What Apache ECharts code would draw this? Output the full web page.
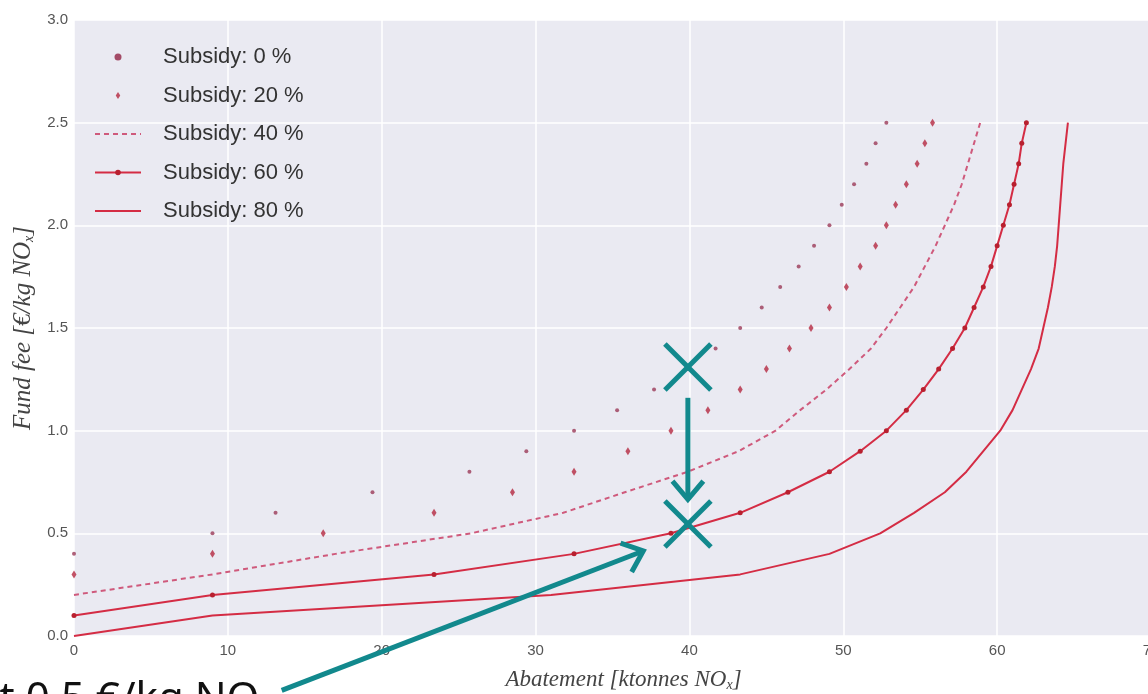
<!DOCTYPE html>
<html>
<head>
<meta charset="utf-8">
<script src="https://cdn.jsdelivr.net/npm/echarts@6/dist/echarts.min.js"></script>
<style>
  html, body { margin: 0; padding: 0; background: #fff; }
  #chart { width: 1148px; height: 694px; }
</style>
</head>
<body>
<div id="chart"></div>
<script>
// fee levels [€/kg NOx], each series ends at 2.5 and starts later for low subsidies
const feeLevels = [0.0, 0.1, 0.2, 0.3, 0.4, 0.5, 0.6, 0.7, 0.8, 0.9, 1.0, 1.1, 1.2,
  1.3, 1.4, 1.5, 1.6, 1.7, 1.8, 1.9, 2.0, 2.1, 2.2, 2.3, 2.4, 2.5];

// abatement [ktonnes NOx]
const abate0 = [0, 9, 13.1, 19.4, 25.7, 29.4, 32.5, 35.3, 37.7, 39.9, 41.7, 43.3, 44.7,
  45.9, 47.1, 48.1, 49.1, 49.9, 50.7, 51.5, 52.1, 52.8];
const abate20 = [0, 9, 16.2, 23.4, 28.5, 32.5, 36.0, 38.8, 41.2, 43.3, 45.0, 46.5, 47.9,
  49.1, 50.2, 51.1, 52.1, 52.8, 53.4, 54.1, 54.8, 55.3, 55.8];
const abate40 = [0, 9, 17, 25.8, 31.8, 35.8, 39.9, 43.2, 45.6, 47.2, 48.9, 50.4, 51.8,
  52.8, 53.7, 54.6, 55.3, 56.0, 56.6, 57.2, 57.7, 58.1, 58.5, 58.9];
const abate60 = [0, 9, 23.4, 32.5, 38.8, 43.3, 46.4, 49.1, 51.1, 52.8, 54.1, 55.2, 56.2,
  57.1, 57.9, 58.5, 59.1, 59.6, 60.0, 60.4, 60.8, 61.1, 61.4, 61.6, 61.9];
const abate80 = [0, 9, 31, 43.3, 49.1, 52.4, 54.6, 56.6, 58.0, 59.1, 60.2, 61.0, 61.6,
  62.2, 62.7, 63.0, 63.3, 63.55, 63.75, 63.9, 64.0, 64.1, 64.2, 64.3, 64.45, 64.6];

const seriesNames = ['Subsidy: 0 %', 'Subsidy: 20 %', 'Subsidy: 40 %', 'Subsidy: 60 %', 'Subsidy: 80 %'];

// slide annotations (data coords)
const crossMarks = [[39.9, 1.31], [39.9, 0.545]];
const downArrow = [[39.9, 1.16], [39.9, 0.665]];
const noteArrow = [[13.5, -0.265], [37.0, 0.414]];
const noteText = 'at 0.5 €/kg NOₓ';

function pairs(abate) {
  const off = feeLevels.length - abate.length;
  return abate.map((a, i) => [a, feeLevels[off + i]]);
}

const red = '#d42c44';
const teal = '#12898d';
const diamond = 'path://M0,-4 L2.6,0 L0,4 L-2.6,0 Z';

var chart = echarts.init(document.getElementById('chart'), null, { renderer: 'canvas' });

const nameRich = size => ({
  i: { fontFamily: 'Liberation Serif', fontStyle: 'italic', fontSize: size, color: '#444' },
  s: { fontFamily: 'Liberation Serif', fontStyle: 'italic', fontSize: 14, color: '#444', verticalAlign: 'bottom', padding: [10, 0, 0, 0] }
});

const option = {
  animation: false,
  backgroundColor: '#fff',
  grid: {
    left: 74, right: -3, top: 20, bottom: 58,
    outerBoundsMode: 'none', containLabel: false,
    show: true, backgroundColor: '#eaeaf2', borderWidth: 0
  },
  legend: {
    orient: 'vertical',
    left: 89,
    top: 41,
    itemWidth: 46,
    itemHeight: 7,
    itemGap: 16.5,
    textStyle: { fontSize: 22, color: '#333', fontFamily: 'Liberation Sans', padding: [0, 0, 0, 17] },
    data: [
      { name: seriesNames[0], itemStyle: { opacity: 0.9 } },
      { name: seriesNames[1] },
      { name: seriesNames[2], itemStyle: { opacity: 0 } },
      { name: seriesNames[3] },
      { name: seriesNames[4], itemStyle: { opacity: 0 } }
    ]
  },
  xAxis: {
    type: 'value',
    min: 0, max: 70, interval: 10,
    axisLine: { show: false },
    axisTick: { show: false },
    axisLabel: { color: '#555', fontSize: 15, fontFamily: 'Liberation Sans', margin: 7 },
    splitLine: { lineStyle: { color: '#fff', width: 1.5 } },
    name: '{i|Abatement [ktonnes NO}{s|x}{i|]}',
    nameLocation: 'middle',
    nameGap: 32,
    nameTextStyle: { padding: [0, 0, 0, 22], rich: nameRich(23) }
  },
  yAxis: {
    type: 'value',
    min: 0, max: 3, interval: 0.5,
    axisLine: { show: false },
    axisTick: { show: false },
    axisLabel: { color: '#555', fontSize: 15, fontFamily: 'Liberation Sans', margin: 6, formatter: v => v.toFixed(1) },
    splitLine: { lineStyle: { color: '#fff', width: 1.5 } },
    name: '{i|Fund fee [€/kg NO}{s|x}{i|]}',
    nameLocation: 'middle',
    nameGap: 38,
    nameTextStyle: { rich: nameRich(25) }
  },
  series: [
    {
      name: seriesNames[0], type: 'scatter', symbol: 'circle', symbolSize: 4,
      itemStyle: { color: '#9b3a58' }, data: pairs(abate0), z: 3
    },
    {
      name: seriesNames[1], type: 'scatter', symbol: diamond, symbolSize: [5, 8],
      itemStyle: { color: '#b42840' }, data: pairs(abate20), z: 3
    },
    {
      name: seriesNames[2], type: 'line', symbol: 'none',
      lineStyle: { color: '#cf5a7c', width: 2, type: [5, 4] },
      itemStyle: { color: '#cf5a7c' }, data: pairs(abate40)
    },
    {
      name: seriesNames[3], type: 'line', symbol: 'circle', symbolSize: 5,
      lineStyle: { color: red, width: 2 },
      itemStyle: { color: '#b8202f' }, data: pairs(abate60)
    },
    {
      name: seriesNames[4], type: 'line', symbol: 'none',
      lineStyle: { color: red, width: 2 },
      itemStyle: { color: red }, data: pairs(abate80)
    }
  ]
};

chart.setOption(option);

// overlay annotations, positioned through the chart's own scales
const px = p => chart.convertToPixel({ gridIndex: 0 }, p);

function arrow(from, to) {
  const a = px(from), b = px(to);
  const dx = b[0] - a[0], dy = b[1] - a[1];
  const len = Math.hypot(dx, dy);
  const ux = dx / len, uy = dy / len;
  const arm = 24, ang = 40 * Math.PI / 180;
  const rot = s => [
    b[0] - arm * (ux * Math.cos(s * ang) - uy * Math.sin(s * ang)),
    b[1] - arm * (ux * Math.sin(s * ang) + uy * Math.cos(s * ang))
  ];
  return [
    { type: 'polyline', shape: { points: [a, b] }, style: { stroke: teal, lineWidth: 5 }, z: 100 },
    { type: 'polyline', shape: { points: [rot(1), b, rot(-1)] }, style: { stroke: teal, lineWidth: 5, lineJoin: 'miter' }, z: 100 }
  ];
}

function cross(c) {
  const p = px(c), h = 23;
  return [
    { type: 'line', shape: { x1: p[0] - h, y1: p[1] - h, x2: p[0] + h, y2: p[1] + h }, style: { stroke: teal, lineWidth: 5 }, z: 100 },
    { type: 'line', shape: { x1: p[0] - h, y1: p[1] + h, x2: p[0] + h, y2: p[1] - h }, style: { stroke: teal, lineWidth: 5 }, z: 100 }
  ];
}

const graphics = []
  .concat(cross(crossMarks[0]), cross(crossMarks[1]))
  .concat(arrow(downArrow[0], downArrow[1]))
  .concat(arrow(noteArrow[0], noteArrow[1]));

graphics.push({
  type: 'text', left: -24, top: 679, z: 100,
  style: { text: noteText, fill: '#111', font: '42px "Noto Sans"' }
});

chart.setOption({ graphic: graphics });
</script>
</body>
</html>
